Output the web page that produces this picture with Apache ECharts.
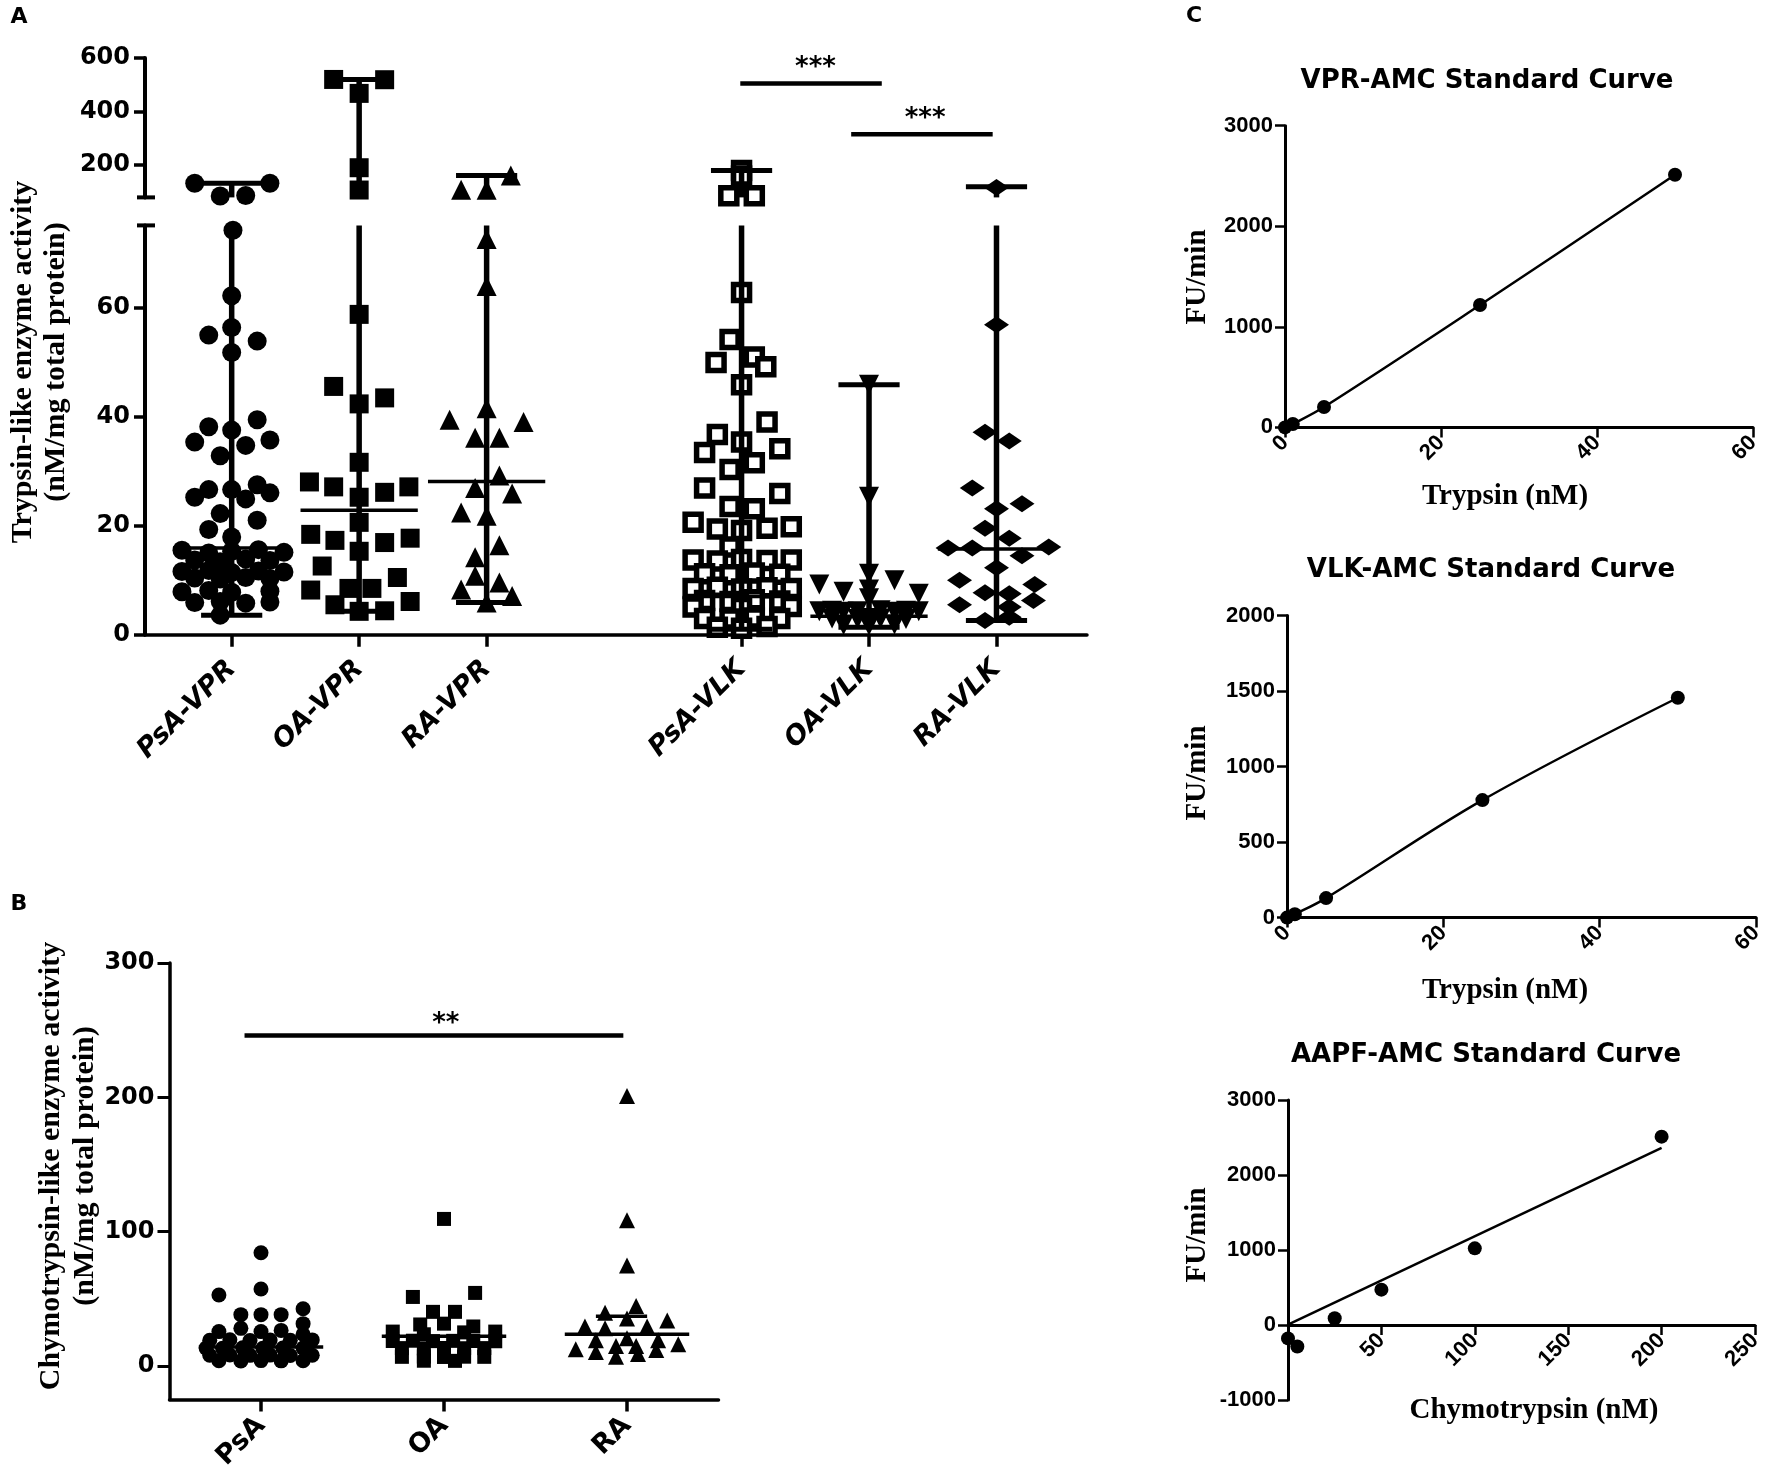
<!DOCTYPE html>
<html>
<head>
<meta charset="utf-8">
<title>Trypsin-like and chymotrypsin-like activity</title>
<script src="https://cdn.jsdelivr.net/npm/echarts@6.0.0/dist/echarts.min.js"></script>
<style>
html, body { margin: 0; padding: 0; background: #fff; }
#chart { width: 1772px; height: 1477px; }
</style>
</head>
<body>
<div id="chart"></div>
<script>
// ---------- panel A : trypsin-like activity, median with range ----------
var aCategories = ['PsA-VPR', 'OA-VPR', 'RA-VPR', '', 'PsA-VLK', 'OA-VLK', 'RA-VLK'];
var aUpperTicks = [200, 400, 600];
var aLowerTicks = [0, 20, 40, 60];

// values (nM/mg) and horizontal spread of each point inside its column (category widths)
var psaVprValues = [133, 133, 85, 87, 74.1, 62.1, 54.9, 56.3, 53.8, 51.7, 38.1, 39.4, 37.5, 35.3, 35.7, 34.7, 32.8,
  26.6, 25.2, 26.6, 27.5, 26.0, 24.9, 22.2, 21.0, 19.3, 17.9, 15.5, 15.0, 15.3, 15.6, 15.1,
  13.7, 13.4, 13.9, 13.6, 11.6, 11.8, 11.4, 11.7, 11.5, 10.4, 10.2, 10.5, 10.3, 7.9, 8.1, 7.8, 8.0,
  5.9, 6.1, 5.8, 6.0, 3.6];
var psaVprSpread = [-0.29, 0.30, -0.09, 0.11, 0.01, 0, -0.18, 0, 0.20, 0, -0.18, 0.20, 0, -0.29, 0.30, 0.11, -0.09,
  -0.18, -0.29, 0, 0.20, 0.30, 0.11, -0.09, 0.20, -0.18, 0, -0.39, -0.18, 0, 0.21, 0.41,
  -0.29, -0.09, 0.11, 0.30, -0.39, -0.18, 0, 0.21, 0.41, -0.29, -0.09, 0.11, 0.30, -0.39, -0.18, 0, 0.30,
  -0.29, -0.09, 0.11, 0.30, -0.09];

var oaVprValues = [520, 519, 468, 190.7, 107.5, 58.7, 45.5, 43.4, 42.3, 31.6, 28.0, 27.1, 25.2, 26.1, 27.1,
  20.6, 18.4, 17.3, 16.9, 17.7, 15.3, 12.6, 10.5, 8.2, 8.5, 8.5, 6.1, 5.5, 4.3, 4.4];
var oaVprSpread = [-0.2, 0.2, 0, 0, 0, 0, -0.2, 0.2, 0, 0, -0.39, -0.2, 0, 0.2, 0.39,
  0, -0.38, -0.19, 0.2, 0.4, 0, -0.29, 0.3, -0.38, -0.08, 0.1, 0.4, -0.19, 0, 0.2];

var raVprValues = [108.6, 108.6, 162, 72.5, 63.9, 41.5, 39.4, 39.0, 36.1, 36.1, 29.2, 26.9, 25.9, 22.4, 21.8,
  16.4, 14.2, 10.8, 9.6, 8.3, 7.1, 5.9];
var raVprSpread = [-0.2, 0, 0.19, 0, 0, 0, -0.29, 0.29, -0.09, 0.1, 0.1, -0.09, 0.2, -0.2, 0,
  0.1, -0.09, -0.09, 0.1, -0.2, 0.2, 0];

var psaVlkValues = [180, 160, 86, 86, 62.7, 54.1, 49.9, 50.9, 49.1, 45.8, 39.0, 36.7, 35.3, 33.4, 31.5, 34.1,
  30.3, 26.9, 25.9, 23.5, 23.1, 20.6, 19.4, 19.1, 19.5, 19.8, 16.1,
  13.7, 13.5, 13.8, 13.6, 13.7, 11.2, 11.0, 11.3, 11.1, 8.5, 8.7, 8.4, 8.6, 8.5,
  6.3, 6.1, 6.4, 6.2, 5.1, 5.0, 5.2, 3.0, 2.9, 3.1, 3.0, 1.4, 1.2, 1.5];
var psaVlkSpread = [0, 0, -0.1, 0.1, 0, -0.09, -0.2, 0.1, 0.19, 0, 0.2, -0.19, 0, -0.29, 0.1, 0.3,
  -0.09, -0.29, 0.3, -0.09, 0.1, -0.38, -0.19, 0, 0.2, 0.39, -0.09,
  -0.38, -0.19, 0, 0.2, 0.39, -0.29, -0.09, 0.1, 0.3, -0.38, -0.19, 0, 0.2, 0.39,
  -0.29, -0.09, 0.1, 0.3, -0.38, 0, 0.39, -0.29, -0.09, 0.1, 0.3, -0.19, 0, 0.2];

var oaVlkValues = [45.8, 25.3, 11.2, 8.3, 6.7, 9.2, 7.9, 10.0, 7.5,
  4.3, 4.4, 4.2, 4.3, 4.5, 4.2, 4.4, 4.3, 3.0, 2.9, 3.1, 3.0, 2.9, 1.8, 1.7, 1.9];
var oaVlkSpread = [0, 0, 0, 0, 0, -0.39, -0.2, 0.2, 0.39,
  -0.39, -0.29, -0.2, -0.09, 0.09, 0.2, 0.29, 0.39, -0.29, -0.09, 0, 0.09, 0.29, -0.2, 0, 0.2];

var raVlkValues = [117, 56.8, 37.1, 35.5, 26.9, 24.0, 23.1, 19.5, 17.7, 15.9, 15.9, 16.1, 14.5, 12.3,
  10.0, 7.7, 7.5, 9.2, 6.3, 5.5, 5.1, 2.6, 3.2];
var raVlkSpread = [0, 0, -0.09, 0.1, -0.19, 0.2, 0, -0.09, 0.1, -0.38, -0.19, 0.41, 0.2, 0,
  -0.29, -0.09, 0.1, 0.3, 0.29, -0.29, 0.1, -0.09, 0.1];

// range bars per column (null = empty gap column)
var aMin = [3.6, 4.3, 5.9, null, 1.0, 1.4, 2.6];
var aMedian = [15.9, 22.8, 28.1, null, 7.0, 3.4, 15.7];
var aMax = [133, 520, 162, null, 180, 45.8, 120];

// significance bars in A
var sigAFrom = [4.99, 5.86];
var sigATo = [6.10, 6.97];
var sigALevel = [505, 316];
var sigAStarX = [5.58, 6.44];
var sigAText = ['***', '***'];

// ---------- panel B : chymotrypsin-like activity ----------
var bCategories = ['PsA', 'OA', 'RA'];
var bTicks = [0, 100, 200, 300];
var bPsaValues = [84.2, 52.8, 57.2, 38.1, 38.1, 38.1, 42.5, 31.4, 25.5, 27.9, 25.5, 26.4, 23.5,
  19.1, 19.4, 18.9, 19.2, 19.0, 19.3, 13.2, 13.0, 13.4, 13.1, 13.3, 13.2,
  7.9, 8.1, 7.8, 8.0, 7.7, 7.9, 3.8, 3.6, 3.9, 3.7, 3.8];
var bPsaSpread = [0, -0.23, 0, -0.11, 0, 0.11, 0.23, 0.23, -0.23, -0.11, 0, 0.11, 0.23,
  -0.28, -0.17, -0.06, 0.05, 0.16, 0.28, -0.3, -0.21, -0.1, 0.01, 0.12, 0.23,
  -0.28, -0.17, -0.06, 0.05, 0.16, 0.28, -0.23, -0.11, 0, 0.11, 0.23];
var bOaValues = [109.4, 51.3, 54.3, 40.2, 40.2, 30.8, 31.4, 29.3, 25.5, 25.5, 23.5, 24.9,
  18.5, 18.7, 18.4, 18.6, 18.5, 18.3, 13.2, 13.0, 13.3, 13.1, 13.2,
  6.7, 6.9, 6.6, 6.8, 6.7, 3.8, 3.7];
var bOaSpread = [0, -0.17, 0.17, -0.06, 0.06, -0.13, 0, 0.16, -0.28, 0.28, -0.11, 0.11,
  -0.28, -0.17, -0.06, 0.05, 0.16, 0.28, -0.23, -0.11, 0, 0.11, 0.22,
  -0.23, -0.11, 0, 0.11, 0.22, -0.11, 0.06];
var bRaValues = [200.9, 108.5, 74.8, 44.6, 39.6, 35.2, 33.7, 29.3, 27.9, 29.3, 19.1, 19.1, 20.5,
  12.3, 14.7, 14.7, 16.1, 10.3, 11.7, 6.7, 8.8];
var bRaSpread = [0, 0, 0, 0.05, -0.12, 0, 0.22, -0.23, -0.12, 0.11, -0.17, 0.17, 0,
  -0.28, -0.06, 0.05, 0.28, -0.17, 0.16, -0.06, 0.06];
var bMedian = [14, 22, 23.5];
var bRaUpperLine = 37;
var sigBFrom = [0.91];
var sigBTo = [2.98];
var sigBLevel = [246];
var sigBStarX = [2.01];
var sigBText = ['**'];

// ---------- panel C : AMC standard curves ----------
var vprX = [0, 1, 5, 25, 50];
var vprY = [0, 34, 203, 1217, 2512];
var vlkX = [0, 1, 5, 25, 50];
var vlkY = [0, 22, 129, 778, 1456];
var aapfX = [0, 5, 25, 50, 100, 200];
var aapfY = [-179, -287, 90, 471, 1022, 2511];
var aapfFitX = [0, 200];
var aapfFitY = [5, 2362];

// ---------- layout ----------
var SANS = '"DejaVu Sans", sans-serif';
var ARIAL = '"Liberation Sans", Arial, sans-serif';
var SERIF = '"Liberation Serif", "DejaVu Serif", serif';
var A_BREAK_LO = 75, A_BREAK_HI = 80;
var AAPF_MIN = -1000, AAPF_MAX = 3000;
var gA_up = { left: 145, top: 58, width: 942, height: 139.4 };
var gA_lo = { left: 145, top: 225.4, width: 942, height: 409.4 };
var gB = { left: 169.5, top: 963, width: 549, height: 436.4 };
var gC1 = { left: 1285, top: 125.7, width: 468, height: 301.7 };
var gC2 = { left: 1287, top: 615.6, width: 469, height: 302 };
var gC3 = { left: 1288, top: 1100, width: 467, height: 300 };

function pairs(xs, ys) {
  return xs.map(function (x, i) { return [x, ys[i]]; });
}

function lineEl(p1, p2, w) {
  return { type: 'line', shape: { x1: p1[0], y1: p1[1], x2: p2[0], y2: p2[1] },
    style: { stroke: '#000', lineWidth: w } };
}

function labelStyle(size, extra, family) {
  var s = { color: '#000', fontFamily: family || SANS, fontWeight: 'bold', fontSize: size };
  for (var k in extra) s[k] = extra[k];
  return s;
}

var chart = echarts.init(document.getElementById('chart'));

// scatter columns of A, split across the broken axis
var aGroups = [
  { pos: 1, values: psaVprValues, spread: psaVprSpread, symbol: 'circle', size: 19 },
  { pos: 2, values: oaVprValues, spread: oaVprSpread, symbol: 'rect', size: 19 },
  { pos: 3, values: raVprValues, spread: raVprSpread, symbol: 'triangle', size: 20 },
  { pos: 5, values: psaVlkValues, spread: psaVlkSpread, symbol: 'rect', size: 16, open: true },
  { pos: 6, values: oaVlkValues, spread: oaVlkSpread, symbol: 'triangle', size: 20, rotate: 180 },
  { pos: 7, values: raVlkValues, spread: raVlkSpread, symbol: 'diamond', size: [25, 17] }
];

var series = [];
aGroups.forEach(function (g) {
  var up = [], lo = [];
  g.values.forEach(function (v, i) {
    var pt = [g.pos + g.spread[i], v];
    if (v > A_BREAK_LO) up.push(pt); else lo.push(pt);
  });
  var style = g.open ? { color: '#fff', borderColor: '#000', borderWidth: 5.5, opacity: 1 }
                     : { color: '#000', opacity: 1 };
  [[0, up], [1, lo]].forEach(function (part) {
    series.push({
      type: 'scatter', xAxisIndex: part[0], yAxisIndex: part[0], data: part[1],
      symbol: g.symbol, symbolSize: g.size, symbolRotate: g.rotate || 0,
      itemStyle: style, z: 2, silent: true
    });
  });
});

// range bars: whisker, min/max caps, median line
var rangeRows = [];
aCategories.forEach(function (c, i) {
  if (aMin[i] !== null) rangeRows.push([i + 1, aMin[i], aMedian[i], aMax[i]]);
});

function rangeRenderer(lo, hi) {
  return function (params, api) {
    var x = api.value(0), mn = api.value(1), md = api.value(2), mx = api.value(3);
    var kids = [];
    var bot = Math.max(mn, lo), top = Math.min(mx, hi);
    if (top > bot) kids.push(lineEl(api.coord([x, bot]), api.coord([x, top]), 5.5));
    [mn, mx].forEach(function (v) {
      if (v >= lo && v <= hi) kids.push(lineEl(api.coord([x - 0.24, v]), api.coord([x + 0.24, v]), 5));
    });
    if (md >= lo && md <= hi) kids.push(lineEl(api.coord([x - 0.46, md]), api.coord([x + 0.46, md]), 3.5));
    return { type: 'group', children: kids };
  };
}

series.push({ type: 'custom', xAxisIndex: 0, yAxisIndex: 0, data: rangeRows, z: 5, silent: true,
  clip: false, encode: { x: 0, y: [1, 2, 3] }, renderItem: rangeRenderer(A_BREAK_HI, 600) });
series.push({ type: 'custom', xAxisIndex: 1, yAxisIndex: 1, data: rangeRows, z: 5, silent: true,
  clip: false, encode: { x: 0, y: [1, 2, 3] }, renderItem: rangeRenderer(0, A_BREAK_LO) });

function sigRenderer(starX, texts, lift) {
  return function (params, api) {
    var p1 = api.coord([api.value(0), api.value(2)]);
    var p2 = api.coord([api.value(1), api.value(2)]);
    var ps = api.coord([starX[params.dataIndex], api.value(2)]);
    return { type: 'group', children: [
      lineEl(p1, p2, 4.5),
      { type: 'text', x: ps[0], y: p1[1] - lift,
        style: { text: texts[params.dataIndex], fill: '#000', font: 'bold 26px ' + SANS,
          align: 'center', verticalAlign: 'middle' } }
    ] };
  };
}

series.push({ type: 'custom', xAxisIndex: 0, yAxisIndex: 0, z: 5, silent: true, clip: false,
  data: sigAFrom.map(function (f, i) { return [f, sigATo[i], sigALevel[i]]; }),
  encode: { x: [0, 1], y: 2 }, renderItem: sigRenderer(sigAStarX, sigAText, 15) });

// panel B scatter
[[bPsaValues, bPsaSpread, 'circle', 15], [bOaValues, bOaSpread, 'rect', 14], [bRaValues, bRaSpread, 'triangle', 16]]
  .forEach(function (g, ci) {
    series.push({ type: 'scatter', xAxisIndex: 2, yAxisIndex: 2, symbol: g[2], symbolSize: g[3],
      itemStyle: { color: '#000', opacity: 1 }, silent: true, z: 2,
      data: g[0].map(function (v, i) { return [ci + 1 + g[1][i], v]; }) });
  });

var bLineRows = bMedian.map(function (m, i) { return [i + 1, m, 0.34]; });
bLineRows.push([2.97, bRaUpperLine, 0.14]);
series.push({ type: 'custom', xAxisIndex: 2, yAxisIndex: 2, z: 5, silent: true, clip: false,
  data: bLineRows, encode: { x: 0, y: 1 },
  renderItem: function (params, api) {
    var x = api.value(0), y = api.value(1), h = api.value(2);
    return lineEl(api.coord([x - h, y]), api.coord([x + h, y]), 3.5);
  } });
series.push({ type: 'custom', xAxisIndex: 2, yAxisIndex: 2, z: 5, silent: true, clip: false,
  data: sigBFrom.map(function (f, i) { return [f, sigBTo[i], sigBLevel[i]]; }),
  encode: { x: [0, 1], y: 2 }, renderItem: sigRenderer(sigBStarX, sigBText, 11) });

// panel C curves
function curve(idx, xs, ys) {
  return { type: 'line', xAxisIndex: idx, yAxisIndex: idx, data: pairs(xs, ys), smooth: 0.35,
    symbol: 'circle', symbolSize: 14, itemStyle: { color: '#000', opacity: 1 },
    lineStyle: { color: '#000', width: 2.5 }, silent: true };
}
series.push(curve(3, vprX, vprY));
series.push(curve(4, vlkX, vlkY));
series.push({ type: 'scatter', xAxisIndex: 5, yAxisIndex: 5, data: pairs(aapfX, aapfY),
  symbol: 'circle', symbolSize: 14, itemStyle: { color: '#000', opacity: 1 }, silent: true });
series.push({ type: 'line', xAxisIndex: 5, yAxisIndex: 5, data: pairs(aapfFitX, aapfFitY),
  showSymbol: false, lineStyle: { color: '#000', width: 2.5 }, silent: true });

// axes
var axLine = function (w) { return { show: true, onZero: false, lineStyle: { color: '#000', width: w } }; };
var noSplit = { show: false };
var plain = function (v) { return String(v); };

function yAx(grid, min, max, ticks, size, tickLen, w, margin, family) {
  return { type: 'value', gridIndex: grid, min: min, max: max, axisLine: axLine(w),
    axisTick: { show: true, customValues: ticks, length: tickLen, lineStyle: { color: '#000', width: w - 0.5 } },
    axisLabel: labelStyle(size, { customValues: ticks, margin: margin, formatter: plain }, family),
    splitLine: noSplit };
}

function cXAxis(grid, max, ticks, offset) {
  return { type: 'value', gridIndex: grid, min: 0, max: max, axisLine: axLine(3), splitLine: noSplit,
    offset: offset || 0,
    axisTick: { show: true, customValues: ticks, length: 10, lineStyle: { color: '#000', width: 2.5 } },
    axisLabel: labelStyle(22, { customValues: ticks, rotate: 45, margin: 12, formatter: plain }, ARIAL) };
}

// x axis of the AAPF plot sits on y = 0
var aapfZeroOffset = -gC3.height * (0 - AAPF_MIN) / (AAPF_MAX - AAPF_MIN);

var xAxes = [
  { type: 'value', gridIndex: 0, min: 0.32, max: 7.71, show: false, splitLine: noSplit },
  { type: 'value', gridIndex: 1, min: 0.32, max: 7.71, axisLine: axLine(3.5), splitLine: noSplit,
    axisTick: { show: true, customValues: [1, 2, 3, 5, 6, 7], length: 12, lineStyle: { color: '#000', width: 3.5 } },
    axisLabel: labelStyle(27, { customValues: [1, 2, 3, 5, 6, 7], rotate: 45, margin: 30, fontStyle: 'italic',
      formatter: function (v) { return aCategories[Math.round(v) - 1]; } }) },
  { type: 'value', gridIndex: 2, min: 0.5, max: 3.5, axisLine: axLine(3.5), splitLine: noSplit,
    axisTick: { show: true, customValues: [1, 2, 3], length: 12, lineStyle: { color: '#000', width: 3.5 } },
    axisLabel: labelStyle(27, { customValues: [1, 2, 3], rotate: 45, margin: 22,
      formatter: function (v) { return bCategories[Math.round(v) - 1]; } }) },
  cXAxis(3, 60, [0, 20, 40, 60]),
  cXAxis(4, 60, [0, 20, 40, 60]),
  cXAxis(5, 250, [50, 100, 150, 200, 250], aapfZeroOffset)
];

var yAxes = [
  yAx(0, A_BREAK_HI, 600, aUpperTicks, 24, 11, 4, 15),
  yAx(1, 0, A_BREAK_LO, aLowerTicks, 24, 11, 4, 15),
  yAx(2, -25, 300, bTicks, 24, 12, 3.5, 15),
  yAx(3, 0, 3000, [0, 1000, 2000, 3000], 22, 10, 3, 12, ARIAL),
  yAx(4, 0, 2000, [0, 500, 1000, 1500, 2000], 22, 10, 3, 12, ARIAL),
  yAx(5, AAPF_MIN, AAPF_MAX, [-1000, 0, 1000, 2000, 3000], 22, 10, 3, 12, ARIAL)
];

var grids = [gA_up, gA_lo, gB, gC1, gC2, gC3].map(function (g) {
  return { left: g.left, top: g.top, width: g.width, height: g.height, containLabel: false, outerBoundsMode: 'none' };
});

function txt(x, y, text, font, rot, lh) {
  return { type: 'text', x: x, y: y, rotation: rot || 0, silent: true, z: 10,
    style: { text: text, font: font, fill: '#000', align: 'center', verticalAlign: 'middle', lineHeight: lh } };
}
var boldSerif = 'bold 29px ' + SERIF;
var capY1 = gA_up.top + gA_up.height, capY2 = gA_lo.top;

var graphics = [
  txt(19, 17, 'A', 'bold 22px ' + SANS),
  txt(19, 904, 'B', 'bold 22px ' + SANS),
  txt(1194, 16, 'C', 'bold 22px ' + SANS),
  { type: 'line', silent: true, z: 10, shape: { x1: gA_up.left - 8, y1: capY1, x2: gA_up.left + 10, y2: capY1 },
    style: { stroke: '#000', lineWidth: 4 } },
  { type: 'line', silent: true, z: 10, shape: { x1: gA_lo.left - 8, y1: capY2, x2: gA_lo.left + 10, y2: capY2 },
    style: { stroke: '#000', lineWidth: 4 } },
  txt(40, 362, 'Trypsin-like enzyme activity\n(nM/mg total protein)', 'bold 30px ' + SERIF, Math.PI / 2, 33),
  txt(68, 1166, 'Chymotrypsin-like enzyme activity\n(nM/mg total protein)', 'bold 30px ' + SERIF, Math.PI / 2, 34),
  txt(1487, 81, 'VPR-AMC Standard Curve', 'bold 26px ' + SANS),
  txt(1491, 570, 'VLK-AMC Standard Curve', 'bold 26px ' + SANS),
  txt(1486, 1055, 'AAPF-AMC Standard Curve', 'bold 26px ' + SANS),
  txt(1198, 277, 'FU/min', boldSerif, Math.PI / 2),
  txt(1198, 773, 'FU/min', boldSerif, Math.PI / 2),
  txt(1198, 1235, 'FU/min', boldSerif, Math.PI / 2),
  txt(1505, 497, 'Trypsin (nM)', boldSerif),
  txt(1505, 991, 'Trypsin (nM)', boldSerif),
  txt(1534, 1411, 'Chymotrypsin (nM)', boldSerif)
];

chart.setOption({
  backgroundColor: '#fff',
  animation: false,
  grid: grids,
  xAxis: xAxes,
  yAxis: yAxes,
  series: series,
  graphic: graphics
});
</script>
</body>
</html>
